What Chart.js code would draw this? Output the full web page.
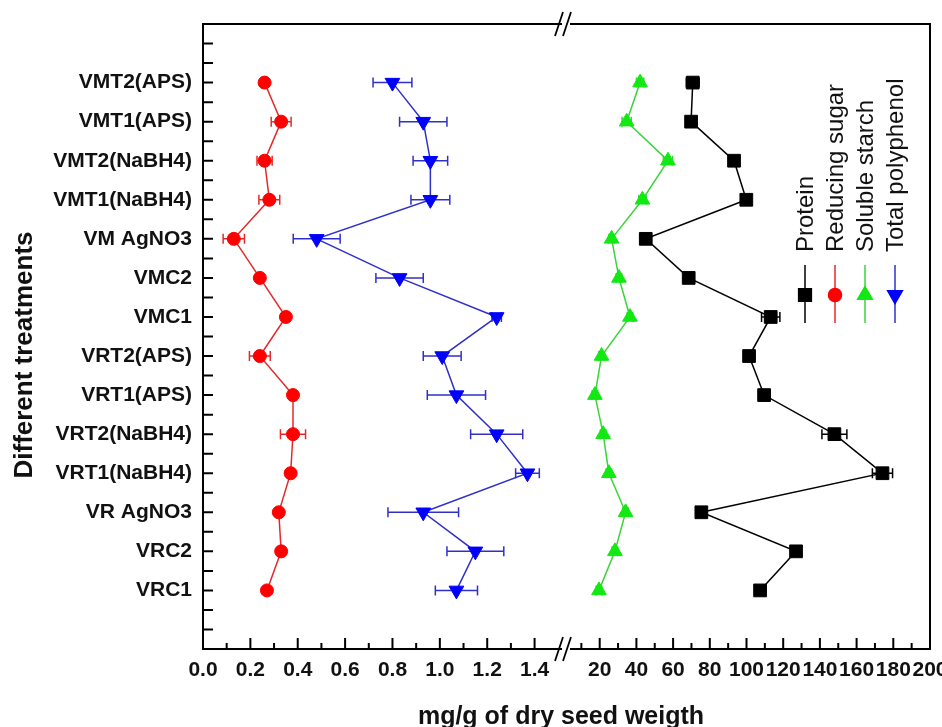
<!DOCTYPE html>
<html>
<head>
<meta charset="utf-8">
<script src="https://cdn.jsdelivr.net/npm/chart.js@4.4.0/dist/chart.umd.min.js"></script>
<style>
  html, body { margin: 0; padding: 0; background: #fff; }
</style>
</head>
<body>
<canvas id="seedChart" width="942" height="727"></canvas>
<script>
// treatments, top to bottom
const treatments = ['VMT2(APS)', 'VMT1(APS)', 'VMT2(NaBH4)', 'VMT1(NaBH4)', 'VM AgNO3', 'VMC2', 'VMC1',
  'VRT2(APS)', 'VRT1(APS)', 'VRT2(NaBH4)', 'VRT1(NaBH4)', 'VR AgNO3', 'VRC2', 'VRC1'];

// right part of the broken axis (0 - 200)
const protein = [70.7, 69.8, 93.2, 99.9, 45.1, 68.5, 113.2, 101.4, 109.6, 147.9, 174.1, 75.4, 127.0, 107.4];
const proteinErr = [3.5, 1.5, 2, 2.5, 3, 1.5, 5, 2.5, 3, 6.8, 5.5, 1.5, 2, 1.5];
const solubleStarch = [42.0, 34.7, 57.2, 43.3, 26.5, 30.5, 36.5, 21.0, 17.4, 21.9, 25.0, 34.1, 28.3, 19.6];
const solubleStarchErr = [2, 2.5, 2.5, 2, 1.5, 1.5, 1.5, 1.5, 1.5, 1.5, 1.5, 1.5, 1.5, 1.5];

// left part of the broken axis (0 - 1.5)
const reducingSugar = [0.26, 0.33, 0.26, 0.28, 0.13, 0.24, 0.35, 0.24, 0.38, 0.38, 0.37, 0.32, 0.33, 0.27];
const reducingSugarErr = [0.005, 0.042, 0.032, 0.044, 0.045, 0.01, 0.01, 0.044, 0.01, 0.053, 0.01, 0.005, 0.01, 0.005];
const totalPolyphenol = [0.80, 0.93, 0.96, 0.96, 0.48, 0.83, 1.24, 1.01, 1.07, 1.24, 1.37, 0.93, 1.15, 1.07];
const totalPolyphenolErr = [0.082, 0.10, 0.073, 0.082, 0.099, 0.10, 0.02, 0.08, 0.123, 0.11, 0.05, 0.149, 0.12, 0.089];

const leftTickLabels = ['0.0', '0.2', '0.4', '0.6', '0.8', '1.0', '1.2', '1.4'];
const rightTickLabels = ['20', '40', '60', '80', '100', '120', '140', '160', '180', '200'];

const FONT = "'Liberation Sans', Arial, sans-serif";

function pts(values) {
  return values.map((v, i) => ({ x: v, y: i + 1 }));
}

const datasets = [
  { label: 'Protein', data: pts(protein), xAxisID: 'x2', borderColor: '#000000', backgroundColor: '#000000',
    pointStyle: 'rect', pointRadius: 9, pointRotation: 0 },
  { label: 'Reducing sugar', data: pts(reducingSugar), xAxisID: 'x1', borderColor: '#e32a2a', backgroundColor: '#ff0000',
    pointStyle: 'circle', pointRadius: 6.5, pointRotation: 0 },
  { label: 'Soluble starch', data: pts(solubleStarch), xAxisID: 'x2', borderColor: '#3ad43a', backgroundColor: '#12e812',
    pointStyle: 'triangle', pointRadius: 8.5, pointRotation: 0 },
  { label: 'Total polyphenol', data: pts(totalPolyphenol), xAxisID: 'x1', borderColor: '#3030c8', backgroundColor: '#0000ff',
    pointStyle: 'triangle', pointRadius: 8.5, pointRotation: 180 }
];
datasets.forEach(ds => {
  ds.showLine = true;
  ds.borderWidth = 1.5;
  ds.pointBorderWidth = 1;
  ds.pointBorderColor = ds.backgroundColor;
  ds.pointHoverRadius = ds.pointRadius;
  ds.tension = 0;
});
const errorSets = [proteinErr, reducingSugarErr, solubleStarchErr, totalPolyphenolErr];

// horizontal error bars with caps
const errorBars = {
  id: 'errorBars',
  beforeDatasetsDraw(chart) {
    const ctx = chart.ctx;
    const ys = chart.scales.y;
    chart.data.datasets.forEach((ds, di) => {
      const xs = chart.scales[ds.xAxisID];
      ctx.save();
      ctx.strokeStyle = ds.borderColor;
      ctx.lineWidth = 1.5;
      ds.data.forEach((p, i) => {
        const e = errorSets[di][i];
        const xa = xs.getPixelForValue(p.x - e);
        const xb = xs.getPixelForValue(p.x + e);
        const y = ys.getPixelForValue(p.y);
        ctx.beginPath();
        ctx.moveTo(xa, y); ctx.lineTo(xb, y);
        ctx.moveTo(xa, y - 5); ctx.lineTo(xa, y + 5);
        ctx.moveTo(xb, y - 5); ctx.lineTo(xb, y + 5);
        ctx.stroke();
      });
      ctx.restore();
    });
  }
};

// frame, inward ticks, axis break, titles and the rotated legend
const frame = {
  id: 'frame',
  afterDraw(chart) {
    const ctx = chart.ctx;
    const a = chart.chartArea;
    const y = chart.scales.y, x1 = chart.scales.x1, x2 = chart.scales.x2;
    ctx.save();
    ctx.strokeStyle = '#000';
    ctx.lineWidth = 2;

    // top and right border
    ctx.beginPath();
    ctx.moveTo(a.left, a.top); ctx.lineTo(a.right, a.top); ctx.lineTo(a.right, a.bottom);
    ctx.stroke();

    // y ticks, every half step
    ctx.beginPath();
    for (let k = 0; k <= 30; k++) {
      const py = y.getPixelForValue(k / 2);
      ctx.moveTo(a.left, py); ctx.lineTo(a.left + 10, py);
    }
    // left x ticks
    for (let k = 1; k <= 14; k++) {
      const px = x1.getPixelForValue(k / 10);
      ctx.moveTo(px, a.bottom); ctx.lineTo(px, a.bottom - (k % 2 === 0 ? 11 : 6));
    }
    // right x ticks
    for (let k = 1; k <= 19; k++) {
      const px = x2.getPixelForValue(k * 10);
      ctx.moveTo(px, a.bottom); ctx.lineTo(px, a.bottom - (k % 2 === 0 ? 11 : 6));
    }
    ctx.stroke();

    // axis break marks
    const bx = x1.right + 3;
    [a.top, a.bottom].forEach(by => {
      ctx.fillStyle = '#fff';
      ctx.fillRect(bx - 4, by - 3, 8, 6);
      ctx.beginPath();
      ctx.moveTo(bx - 11, by + 12); ctx.lineTo(bx - 3, by - 12);
      ctx.moveTo(bx - 3, by + 12); ctx.lineTo(bx + 5, by - 12);
      ctx.lineWidth = 1.8;
      ctx.stroke();
    });

    // axis titles
    ctx.fillStyle = '#111';
    ctx.font = 'bold 25px ' + FONT;
    ctx.textAlign = 'center';
    ctx.textBaseline = 'top';
    ctx.fillText('mg/g of dry seed weigth', 561, 705);

    ctx.save();
    ctx.translate(25, 355);
    ctx.rotate(-Math.PI / 2);
    ctx.font = 'bold 26px ' + FONT;
    ctx.textBaseline = 'middle';
    ctx.fillText('Different treatments', 0, 0);
    ctx.restore();

    // legend, rotated
    chart.data.datasets.forEach((ds, i) => {
      const cx = 805 + 30 * i;
      ctx.strokeStyle = ds.borderColor;
      ctx.lineWidth = 1.5;
      ctx.beginPath();
      ctx.moveTo(cx, 265); ctx.lineTo(cx, 323);
      ctx.stroke();
      ctx.fillStyle = ds.backgroundColor;
      ctx.strokeStyle = ds.backgroundColor;
      Chart.helpers.drawPoint(ctx, {
        pointStyle: ds.pointStyle, rotation: ds.pointRotation, radius: ds.pointRadius, borderWidth: 1
      }, cx, 295);
      ctx.save();
      ctx.translate(cx + 1, 252);
      ctx.rotate(-Math.PI / 2);
      ctx.fillStyle = '#111';
      ctx.font = '24px ' + FONT;
      ctx.textAlign = 'left';
      ctx.textBaseline = 'middle';
      ctx.fillText(ds.label, 0, 0);
      ctx.restore();
    });
    ctx.restore();
  }
};

const tickFont = { family: FONT, size: 21, weight: 'bold' };

new Chart(document.getElementById('seedChart'), {
  type: 'scatter',
  data: { datasets: datasets },
  options: {
    responsive: false,
    animation: false,
    devicePixelRatio: 1,
    layout: { padding: { left: 0, top: 24, right: 12, bottom: 0 } },
    plugins: {
      legend: { display: false },
      tooltip: { enabled: false }
    },
    scales: {
      y: {
        type: 'linear',
        reverse: true,
        min: -0.5,
        max: 15.5,
        afterBuildTicks: s => { s.ticks = treatments.map((t, i) => ({ value: i + 1 })); },
        ticks: { callback: (v, i) => treatments[i], autoSkip: false, font: tickFont, color: '#111', padding: 11 },
        grid: { drawOnChartArea: false, drawTicks: false },
        border: { color: '#000', width: 2 },
        afterFit: s => { s.width = 203; s.paddingTop = 0; s.paddingBottom = 0; }
      },
      x1: {
        type: 'linear',
        position: 'bottom',
        stack: 'x',
        stackWeight: 360,
        min: 0,
        max: 1.52,
        afterBuildTicks: s => { s.ticks = leftTickLabels.map(t => ({ value: parseFloat(t) })); },
        ticks: { callback: (v, i) => leftTickLabels[i], autoSkip: false, maxRotation: 0, font: tickFont, color: '#111', padding: 9 },
        grid: { drawOnChartArea: false, drawTicks: false },
        border: { color: '#000', width: 2 },
        afterFit: s => { s.height = 78; s.paddingLeft = 0; s.paddingRight = 0; }
      },
      x2: {
        type: 'linear',
        position: 'bottom',
        stack: 'x',
        stackWeight: 367,
        min: 0,
        max: 200,
        afterBuildTicks: s => { s.ticks = rightTickLabels.map(t => ({ value: parseFloat(t) })); },
        ticks: { callback: (v, i) => rightTickLabels[i], autoSkip: false, maxRotation: 0, font: tickFont, color: '#111', padding: 9 },
        grid: { drawOnChartArea: false, drawTicks: false },
        border: { color: '#000', width: 2 },
        afterFit: s => { s.height = 78; s.paddingLeft = 0; s.paddingRight = 0; }
      }
    }
  },
  plugins: [errorBars, frame]
});
</script>
</body>
</html>
